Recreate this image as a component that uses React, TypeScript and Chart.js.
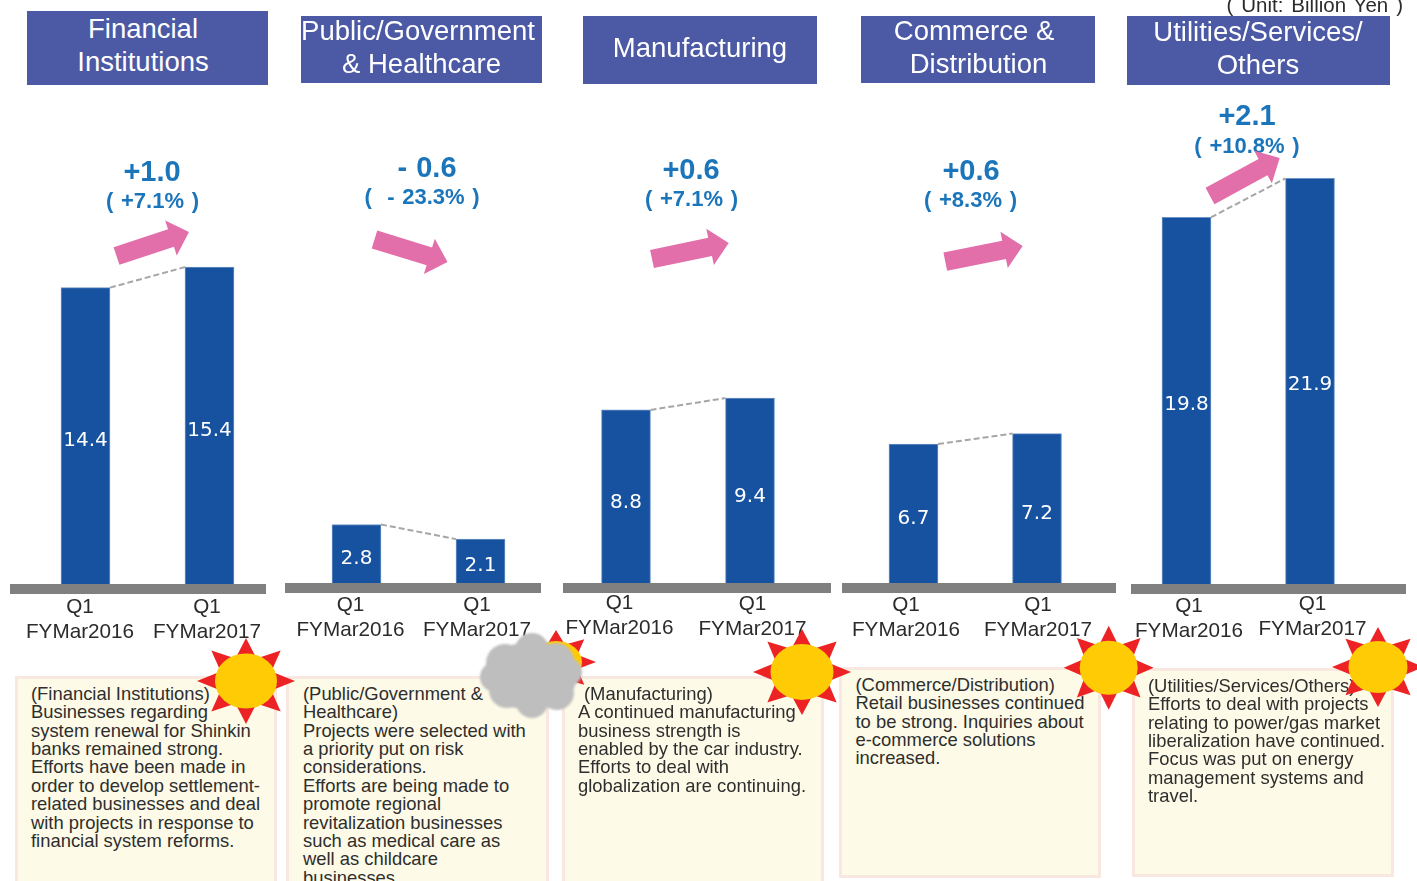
import React, { useEffect, useRef } from "react";
import { Chart, registerables } from "chart.js";

Chart.register(...registerables);

// ---- data ----
const periodLabels = [["Q1", "FYMar2016"], ["Q1", "FYMar2017"]];
const financialValues = [14.4, 15.4];
const publicValues = [2.8, 2.1];
const manufacturingValues = [8.8, 9.4];
const commerceValues = [6.7, 7.2];
const utilitiesValues = [19.8, 21.9];
const seriesValues = [financialValues, publicValues, manufacturingValues, commerceValues, utilitiesValues];

const headerTitles = [
  ["Financial", "Institutions"],
  ["Public/Government", "& Healthcare"],
  ["Manufacturing"],
  ["Commerce &", "Distribution"],
  ["Utilities/Services/", "Others"],
];
const deltaValues = ["+1.0", "- 0.6", "+0.6", "+0.6", "+2.1"];
const deltaPercents = ["( +7.1% )", "(  - 23.3% )", "( +7.1% )", "( +8.3% )", "( +10.8% )"];
const commentLines = [
  ["(Financial Institutions)", "Businesses regarding", "system renewal for Shinkin", "banks remained strong.", "Efforts have been made in", "order to develop settlement-", "related businesses and deal", "with projects in response to", "financial system reforms."],
  ["(Public/Government &", "Healthcare)", "Projects were selected with", "a priority put on risk", "considerations.", "Efforts are being made to", "promote regional", "revitalization businesses", "such as medical care as", "well as childcare", "businesses."],
  ["(Manufacturing)", "A continued manufacturing", "business strength is", "enabled by the car industry.", "Efforts to deal with", "globalization are continuing."],
  ["(Commerce/Distribution)", "Retail businesses continued", "to be strong. Inquiries about", "e-commerce solutions", "increased."],
  ["(Utilities/Services/Others)", "Efforts to deal with projects", "relating to power/gas market", "liberalization have continued.", "Focus was put on energy", "management systems and", "travel."],
];
const unitLabel = "( Unit: Billion Yen )";

// ---- layout (pixels on the page, not data) ----
const W = 1417;
const H = 881;
const BAR_W = 49;
const plotLayout = [
  { c: [85.5, 209.5], base: 584, ppu: 20.58, gray: [10, 266], valueDy: 5, nudge: [[-5.5, 0], [-2.5, 0]] },
  { c: [356.5, 480.5], base: 583, ppu: 20.9, gray: [285, 541], valueDy: 5, nudge: [[-6, -1], [-3.5, -1]] },
  { c: [626, 750], base: 583, ppu: 19.67, gray: [563, 831], valueDy: 6, nudge: [[-6.5, -3], [2.5, -2]] },
  { c: [913.5, 1037], base: 583, ppu: 20.75, gray: [842, 1116], valueDy: 5, nudge: [[-7.5, -1], [1, -1]] },
  { c: [1186.5, 1310], base: 584, ppu: 18.52, gray: [1131, 1406], valueDy: 4, nudge: [[2.5, -1], [2.5, -3]] },
];
const headerBoxes = [
  { x: 27, y: 11, w: 241, h: 74, cxs: [143, 143], ys: [29, 62] },
  { x: 301, y: 16, w: 241, h: 67, cxs: [418, 421.5], ys: [31, 64] },
  { x: 583, y: 16, w: 234, h: 68, cxs: [700], ys: [48] },
  { x: 861, y: 16, w: 234, h: 67, cxs: [974, 978.5], ys: [31, 64] },
  { x: 1127, y: 16, w: 263, h: 69, cxs: [1258, 1258], ys: [32, 65] },
];
const deltaPos = [
  { x: 152, y1: 171, x2: 152.5, y2: 201 },
  { x: 427, y1: 167, x2: 422, y2: 197 },
  { x: 691, y1: 169, x2: 691.5, y2: 199 },
  { x: 971, y1: 170, x2: 970.5, y2: 200 },
  { x: 1247, y1: 115, x2: 1247, y2: 146 },
];
const arrows = [
  { tail: [116.5, 256], tip: [189, 232] },
  { tail: [374.5, 239.5], tip: [447.5, 262] },
  { tail: [652, 259], tip: [728.7, 243] },
  { tail: [945.3, 261.7], tip: [1022.7, 246] },
  { tail: [1210, 196], tip: [1279.7, 158] },
];
const commentBoxes = [
  { x: 15, y: 676, w: 262, h: 230, tx: 31, ty: 694, indent: 0 },
  { x: 286, y: 676, w: 263, h: 230, tx: 303, ty: 694, indent: 0 },
  { x: 562, y: 676, w: 262, h: 230, tx: 578, ty: 694, indent: 6 },
  { x: 839, y: 667, w: 262, h: 211, tx: 855.5, ty: 685, indent: 0 },
  { x: 1132, y: 668, w: 262, h: 209, tx: 1148, ty: 686, indent: 0 },
];
const suns = [
  { cx: 246, cy: 681, rx: 31, ry: 27.5, tx: 49, ty: 43 },
  { cx: 556, cy: 662, rx: 26, ry: 21, tx: 40, ty: 32 },
  { cx: 802, cy: 672, rx: 31.5, ry: 28, tx: 49, ty: 43 },
  { cx: 1108.7, cy: 667.7, rx: 29, ry: 27, tx: 45, ty: 42 },
  { cx: 1378, cy: 667, rx: 29.5, ry: 26, tx: 46, ty: 40 },
];
const cloudLobes = [
  [532, 650, 17], [505, 663, 19], [495, 677, 15], [507, 690, 18],
  [532, 702, 16], [557, 693, 17], [567, 672, 15], [556, 661, 18],
];

const SANS = '"Liberation Sans", Arial, sans-serif';

function arrowPoints(tail: number[], tip: number[]) {
  const dx = tip[0] - tail[0];
  const dy = tip[1] - tail[1];
  const len = Math.hypot(dx, dy);
  const ux = dx / len, uy = dy / len, nx = -uy, ny = ux;
  const sw = 9.3, hw = 18.5, hl = 19;
  const bx = tip[0] - ux * hl, by = tip[1] - uy * hl;
  const pts = [
    [tail[0] + nx * sw, tail[1] + ny * sw],
    [bx + nx * sw, by + ny * sw],
    [bx + nx * hw, by + ny * hw],
    tip,
    [bx - nx * hw, by - ny * hw],
    [bx - nx * sw, by - ny * sw],
    [tail[0] - nx * sw, tail[1] - ny * sw],
  ];
  return pts.map((p) => p.join(",")).join(" ");
}

function rayPoints(s: typeof suns[number], i: number) {
  const a = (i * Math.PI) / 4;
  const d = (17 * Math.PI) / 180;
  const p = (ang: number, rx: number, ry: number) => `${s.cx + Math.cos(ang) * rx},${s.cy + Math.sin(ang) * ry}`;
  return [p(a - d, s.rx * 0.98, s.ry * 0.98), p(a, s.tx, s.ty), p(a + d, s.rx * 0.98, s.ry * 0.98)].join(" ");
}

const slidePlugin = {
  id: "slideMarks",
  beforeDraw(chart: any, _a: any, opts: any) {
    const xs = chart.scales.x;
    if (!chart.$nudged) {
      xs.getLabelItems().forEach((item: any, i: number) => {
        item.options.translation[0] += opts.nudge[i][0];
        item.options.translation[1] += opts.nudge[i][1];
      });
      chart.$nudged = true;
    }
  },
  beforeDatasetsDraw(chart: any, _a: any, opts: any) {
    const { ctx, scales } = chart;
    ctx.save();
    ctx.fillStyle = "#808080";
    ctx.fillRect(opts.gray[0], scales.y.getPixelForValue(0), opts.gray[1] - opts.gray[0], 10);
    ctx.restore();
  },
  afterDatasetsDraw(chart: any, _a: any, opts: any) {
    const { ctx } = chart;
    const bars = chart.getDatasetMeta(0).data;
    const values = chart.data.datasets[0].data;
    ctx.save();
    ctx.strokeStyle = "#A6A6A6";
    ctx.lineWidth = 2;
    ctx.setLineDash([6, 3]);
    ctx.beginPath();
    ctx.moveTo(bars[0].x + bars[0].width / 2, bars[0].y);
    ctx.lineTo(bars[1].x - bars[1].width / 2, bars[1].y);
    ctx.stroke();
    ctx.setLineDash([]);
    ctx.fillStyle = "#FFFFFF";
    ctx.font = '20px "DejaVu Sans"';
    ctx.textAlign = "center";
    ctx.textBaseline = "middle";
    bars.forEach((b: any, i: number) => {
      ctx.fillText(values[i].toFixed(1), b.x, (b.y + b.base) / 2 + opts.valueDy);
    });
    ctx.restore();
  },
};

function BarPanel({ index }: { index: number }) {
  const ref = useRef<HTMLCanvasElement | null>(null);
  useEffect(() => {
    const l = plotLayout[index];
    const spacing = l.c[1] - l.c[0];
    const axisH = 60;
    const chart = new Chart(ref.current as HTMLCanvasElement, {
      type: "bar",
      data: {
        labels: periodLabels as any,
        datasets: [{
          data: seriesValues[index],
          backgroundColor: "#16529F",
          borderColor: "#6C93C6",
          borderWidth: 1,
          barThickness: BAR_W,
        }],
      },
      options: {
        animation: false,
        responsive: false,
        maintainAspectRatio: false,
        layout: {
          padding: {
            top: 0,
            left: l.c[0] - spacing / 2,
            right: W - (l.c[1] + spacing / 2),
            bottom: H - l.base - axisH,
          },
        },
        plugins: {
          legend: { display: false },
          title: { display: false },
          tooltip: { enabled: false },
          slideMarks: { gray: l.gray, nudge: l.nudge, valueDy: l.valueDy },
        } as any,
        scales: {
          x: {
            grid: { display: false, drawTicks: false },
            border: { display: false },
            afterFit: (s: any) => { s.height = axisH; },
            ticks: {
              maxRotation: 0,
              autoSkip: false,
              padding: 11,
              color: "#2B2B2B",
              font: { family: SANS, size: 20.7, lineHeight: 25 / 20.7 },
            },
          },
          y: { display: false, min: 0, max: l.base / l.ppu },
        },
      },
      plugins: [slidePlugin as any],
    });
    return () => chart.destroy();
  }, [index]);
  return <canvas ref={ref} width={W} height={H} style={{ position: "absolute", left: 0, top: 0, width: W, height: H, display: "block" }} />;
}

function Label({ x, y, size, color, bold, wordSpacing, children }: any) {
  return (
    <div style={{
      position: "absolute", left: x, top: y, transform: "translate(-50%,-50%)",
      fontFamily: SANS, fontSize: size, color, fontWeight: bold ? 700 : 400,
      lineHeight: 1, whiteSpace: "pre", wordSpacing: wordSpacing || 0,
    }}>{children}</div>
  );
}

export default function App() {
  return (
    <div style={{ position: "absolute", left: 0, top: 0, width: W, height: H, overflow: "hidden", background: "#FFFFFF" }}>
      {plotLayout.map((_, i) => <BarPanel key={i} index={i} />)}

      {headerBoxes.map((b, i) => (
        <React.Fragment key={i}>
          <div style={{ position: "absolute", left: b.x, top: b.y, width: b.w, height: b.h, background: "#4C59A5" }} />
          {headerTitles[i].map((t, j) => (
            <Label key={j} x={b.cxs[j]} y={b.ys[j]} size={27.5} color="#FFFFFF">{t}</Label>
          ))}
        </React.Fragment>
      ))}

      <div style={{ position: "absolute", right: 14, top: 12 - 19, fontFamily: SANS, fontSize: 20.5, lineHeight: "23px", color: "#2B2B2B", whiteSpace: "pre", wordSpacing: 2.25 }}>{unitLabel}</div>

      {deltaPos.map((d, i) => (
        <React.Fragment key={i}>
          <Label x={d.x} y={d.y1} size={29} color="#1B75BB" bold wordSpacing={1}>{deltaValues[i]}</Label>
          <Label x={d.x2} y={d.y2} size={22} color="#1B75BB" bold wordSpacing={1.6}>{deltaPercents[i]}</Label>
        </React.Fragment>
      ))}

      {commentBoxes.map((b, i) => (
        <React.Fragment key={i}>
          <div style={{ position: "absolute", left: b.x, top: b.y, width: b.w, height: b.h, boxSizing: "border-box", background: "#FDFAE7", border: "3px solid #F8E8DF" }} />
          <div style={{ position: "absolute", left: b.tx, top: b.ty - 9.2, fontFamily: SANS, fontSize: 18.4, lineHeight: "18.4px", color: "#2E2E2E", whiteSpace: "pre" }}>
            {commentLines[i].map((t, j) => (
              <div key={j} style={{ paddingLeft: j === 0 ? b.indent : 0 }}>{t}</div>
            ))}
          </div>
        </React.Fragment>
      ))}

      <svg width={W} height={H} style={{ position: "absolute", left: 0, top: 0, pointerEvents: "none" }}>
        <defs>
          <filter id="cloudBlur" x="-10%" y="-10%" width="120%" height="120%">
            <feGaussianBlur stdDeviation="1" />
          </filter>
        </defs>
        {arrows.map((a, i) => <polygon key={i} points={arrowPoints(a.tail, a.tip)} fill="#E26EAA" />)}
        {suns.map((s, i) => (
          <g key={i}>
            {[0, 1, 2, 3, 4, 5, 6, 7].map((k) => <polygon key={k} points={rayPoints(s, k)} fill="#ED2224" />)}
            <ellipse cx={s.cx} cy={s.cy} rx={s.rx} ry={s.ry} fill="#FFCB05" />
          </g>
        ))}
        <g filter="url(#cloudBlur)" fill="#BEBEBE">
          {cloudLobes.map((c, i) => <circle key={i} cx={c[0]} cy={c[1]} r={c[2]} />)}
          <ellipse cx={531} cy={676} rx={46} ry={34} />
        </g>
      </svg>
    </div>
  );
}
